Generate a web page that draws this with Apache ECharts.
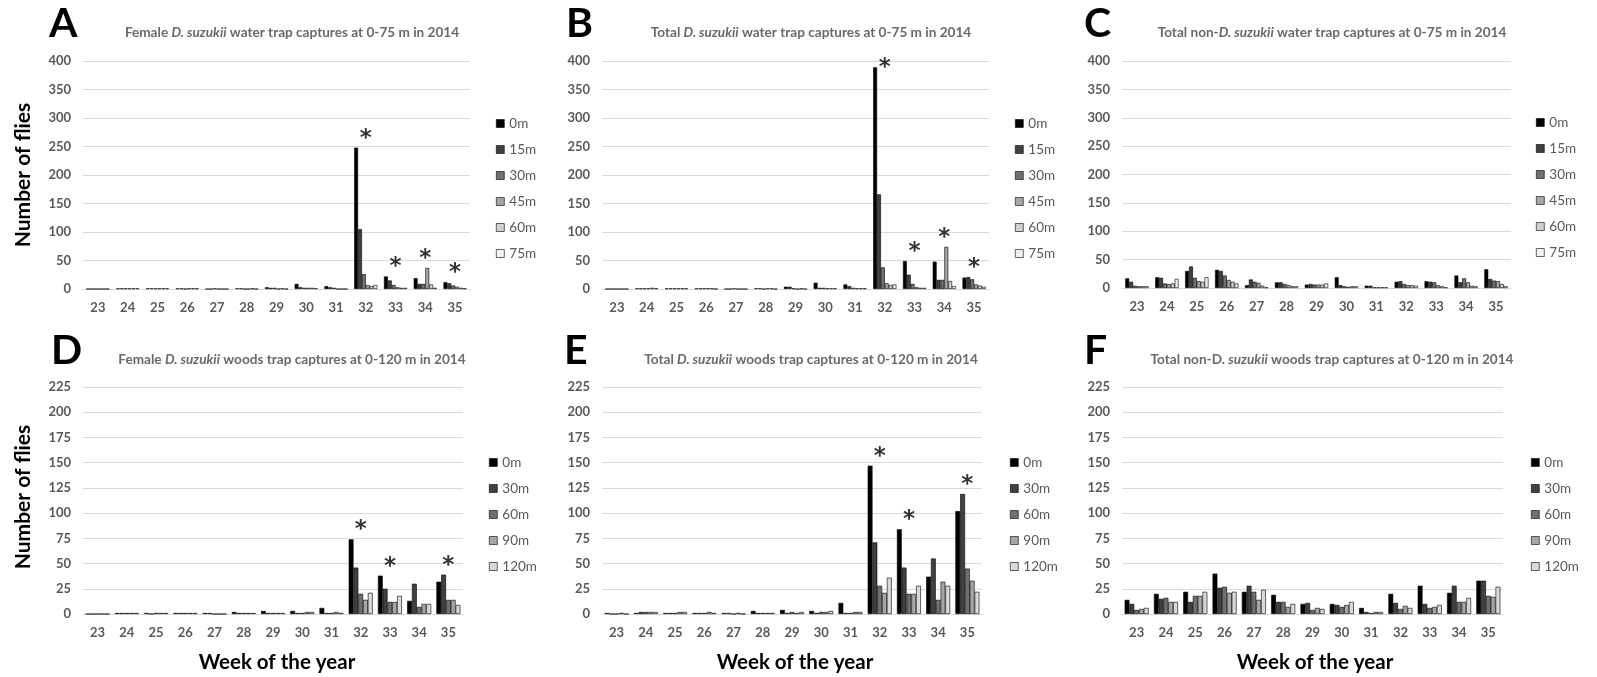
<!DOCTYPE html>
<html><head><meta charset="utf-8">
<script src="https://cdn.jsdelivr.net/npm/echarts@6/dist/echarts.min.js"></script>
<style>html,body{margin:0;padding:0;background:#fff}#c{width:1597px;height:677px}</style>
</head><body><div id="c"></div><script>
// ---------- data ----------
const weeks = ['23','24','25','26','27','28','29','30','31','32','33','34','35'];
const waterDist = ['0m','15m','30m','45m','60m','75m'];
const woodsDist = ['0m','30m','60m','90m','120m'];
const waterColors = ['#000000','#404040','#707070','#a6a6a6','#d0d0d0','#f2f2f2'];
const woodsColors = ['#000000','#404040','#707070','#a6a6a6','#d9d9d9'];
const waterYMax = 400, waterYStep = 50;
const woodsYMax = 225, woodsYStep = 25;

// rows = distance series, columns = weeks 23..35
const femaleWater = [
  [0,1,1,1,0,1,3,9,5,248,22,19,12],
  [0,1,1,1,0,1,2,3,3,105,15,9,10],
  [0,1,1,0,1,0,2,2,2,26,7,9,6],
  [0,1,1,1,0,0,0,2,0,7,3,37,4],
  [0,1,1,1,0,1,1,2,0,5,2,8,2],
  [0,1,1,1,0,0,0,1,0,7,2,2,1]
];
const totalWater = [
  [0,1,1,1,0,1,4,11,8,389,49,48,20],
  [0,1,1,1,0,1,4,2,5,166,25,16,21],
  [0,1,1,1,1,0,1,2,2,38,9,16,17],
  [0,1,1,1,0,1,0,1,1,10,3,74,8],
  [0,2,1,1,0,1,1,1,1,7,2,14,6],
  [0,1,1,0,0,0,0,1,1,8,2,5,4]
];
const nonWater = [
  [17,19,30,32,5,10,6,19,4,11,12,22,33],
  [11,18,38,30,15,10,7,5,4,12,11,10,16],
  [4,8,18,22,11,7,6,3,1,7,10,17,13],
  [3,7,12,14,9,5,6,2,1,5,5,10,12],
  [3,8,11,11,4,3,6,3,1,5,3,4,7],
  [3,16,19,8,1,3,8,3,1,4,1,3,3]
];
const femaleWoods = [
  [0,1,1,1,1,2,3,3,6,74,38,13,32],
  [0,1,0,1,1,1,1,1,1,46,25,30,39],
  [0,1,1,1,0,1,1,1,1,20,12,7,14],
  [0,1,1,1,0,1,1,2,2,14,12,10,14],
  [0,1,1,1,0,1,1,2,1,21,18,10,9]
];
const totalWoods = [
  [1,1,1,1,1,3,4,3,11,147,84,37,102],
  [0,2,1,1,1,1,1,1,1,71,46,55,119],
  [0,2,1,1,0,1,2,2,1,28,20,14,45],
  [1,2,2,2,1,1,1,2,2,21,20,32,33],
  [0,2,2,1,0,1,2,3,2,36,28,28,22]
];
const nonWoods = [
  [14,20,22,40,22,19,10,10,6,20,28,21,33],
  [10,15,12,26,28,12,11,9,2,11,10,28,33],
  [4,16,18,27,22,12,4,7,1,5,6,12,18],
  [5,12,18,21,14,7,6,9,2,8,7,12,17],
  [6,12,22,22,24,10,5,12,2,6,9,16,27]
];
const starsA = ['32','33','34','35'];
const starsB = ['32','33','34','35'];
const starsD = ['32','33','35'];
const starsE = ['32','33','35'];

const titleA = ['Female ','D. suzukii',' water trap captures at 0-75 m in 2014'];
const titleB = ['Total ','D. suzukii',' water trap captures at 0-75 m in 2014'];
const titleC = ['Total non-','D. suzukii',' water trap captures at 0-75 m in 2014'];
const titleD = ['Female ','D. suzukii',' woods trap captures at 0-120 m in 2014'];
const titleE = ['Total ','D. suzukii',' woods trap captures at 0-120 m in 2014'];
const titleF = ['Total non-D. ','suzukii',' woods trap captures at 0-120 m in 2014'];

// ---------- layout ----------
const FF = 'Lato, "Open Sans", sans-serif';
const panels = [
  {letter:'A', data:femaleWater, dist:waterDist, colors:waterColors, ymax:waterYMax, step:waterYStep, stars:starsA, title:titleA,
   grid:{left:83, top:61, width:387, height:228}, legend:{left:491, top:111}, letterPos:[63,27], titleX:292, titleY:33, gap:'22%'},
  {letter:'B', data:totalWater, dist:waterDist, colors:waterColors, ymax:waterYMax, step:waterYStep, stars:starsB, title:titleB,
   grid:{left:602, top:61, width:387, height:228}, legend:{left:1010, top:111}, letterPos:[580,27], titleX:811, titleY:33, gap:'22%'},
  {letter:'C', data:nonWater, dist:waterDist, colors:waterColors, ymax:waterYMax, step:waterYStep, stars:[], title:titleC,
   grid:{left:1122, top:61, width:389, height:227}, legend:{left:1531, top:110}, letterPos:[1098,27], titleX:1332, titleY:33, gap:'22%'},
  {letter:'D', data:femaleWoods, dist:woodsDist, colors:woodsColors, ymax:woodsYMax, step:woodsYStep, stars:starsD, title:titleD,
   grid:{left:83, top:387, width:380, height:227}, legend:{left:484, top:450}, letterPos:[65,354], titleX:292, titleY:360, gap:'18%'},
  {letter:'E', data:totalWoods, dist:woodsDist, colors:woodsColors, ymax:woodsYMax, step:woodsYStep, stars:starsE, title:titleE,
   grid:{left:602, top:387, width:380, height:227}, legend:{left:1005, top:450}, letterPos:[578,354], titleX:811, titleY:360, gap:'18%'},
  {letter:'F', data:nonWoods, dist:woodsDist, colors:woodsColors, ymax:woodsYMax, step:woodsYStep, stars:[], title:titleF,
   grid:{left:1122, top:387, width:381, height:227}, legend:{left:1526, top:450}, letterPos:[1098,354], titleX:1332, titleY:360, gap:'18%'}
];

const grids=[], xAxes=[], yAxes=[], series=[], legends=[], graphics=[];
panels.forEach((p,i)=>{
  grids.push(Object.assign({containLabel:false}, p.grid));
  xAxes.push({type:'category', gridIndex:i, data:weeks,
    axisLine:{lineStyle:{color:'#d9d9d9', width:1}}, axisTick:{show:false},
    axisLabel:{fontFamily:FF, fontSize:13, fontWeight:'bold', color:'#595959', margin:12}});
  yAxes.push({type:'value', gridIndex:i, min:0, max:p.ymax, interval:p.step,
    axisLine:{show:false}, axisTick:{show:false},
    splitLine:{lineStyle:{color:'#d9d9d9', width:1}},
    axisLabel:{fontFamily:FF, fontSize:13, fontWeight:'bold', color:'#595959', margin:12}});
  p.dist.forEach((d,j)=>{
    series.push({type:'bar', name:d, xAxisIndex:i, yAxisIndex:i, data:p.data[j],
      barGap:'0%', barCategoryGap:p.gap,
      itemStyle:{color:p.colors[j], borderColor:'#000', borderWidth:0.6}, silent:true});
  });
  if (p.stars.length){
    series.push({type:'scatter', name:'stars'+i, xAxisIndex:i, yAxisIndex:i, silent:true, z:10,
      symbol:'circle', symbolSize:1, itemStyle:{color:'rgba(0,0,0,0)'},
      data:p.stars.map(w=>{const k=weeks.indexOf(w); const m=Math.max(...p.data.map(r=>r[k])); return [w, Math.min(m, p.ymax*0.93)];}),
      label:{show:true, formatter:'*', position:'inside', offset:[0,-9], fontSize:23, fontWeight:'bold', color:'#000', fontFamily:'"DejaVu Sans", sans-serif'}});
  }
  legends.push({orient:'vertical', left:p.legend.left, top:p.legend.top, icon:'rect', itemWidth:8, itemHeight:8, itemGap:11,
    selectedMode:false,
    data:p.dist.map((d,j)=>({name:d, itemStyle:{color:p.colors[j], borderColor:'#000', borderWidth:0.6}})),
    textStyle:{fontFamily:FF, fontSize:13.5, color:'#595959', lineHeight:15}});
  graphics.push({type:'text', left:p.letterPos[0]-14, top:p.letterPos[1]-24,
    style:{text:p.letter, font:'bold 41px '+FF, fill:'#000'}});
  graphics.push({type:'text', x:p.titleX, y:p.titleY,
    style:{text:'{n|'+p.title[0]+'}{i|'+p.title[1]+'}{n|'+p.title[2]+'}', align:'center', verticalAlign:'middle',
      rich:{n:{fontFamily:FF, fontSize:13.6, fontWeight:'bold', fill:'#6a6a6a', color:'#6a6a6a'},
            i:{fontFamily:FF, fontSize:13.6, fontWeight:'bold', fontStyle:'italic', fill:'#6a6a6a', color:'#6a6a6a'}}}});
});
// axis titles
[[23,175],[23,497]].forEach(([x,y])=>{
  graphics.push({type:'text', x:x, y:y, rotation:Math.PI/2,
    style:{text:'Number of flies', font:'bold 21px '+FF, fill:'#000', align:'center', verticalAlign:'middle'}});
});
[277,795,1315].forEach(x=>{
  graphics.push({type:'text', x:x, y:662,
    style:{text:'Week of the year', font:'bold 20.5px '+FF, fill:'#000', align:'center', verticalAlign:'middle'}});
});

const chart = echarts.init(document.getElementById('c'));
chart.setOption({animation:false, grid:grids, xAxis:xAxes, yAxis:yAxes, series:series, legend:legends, graphic:graphics});
</script></body></html>
